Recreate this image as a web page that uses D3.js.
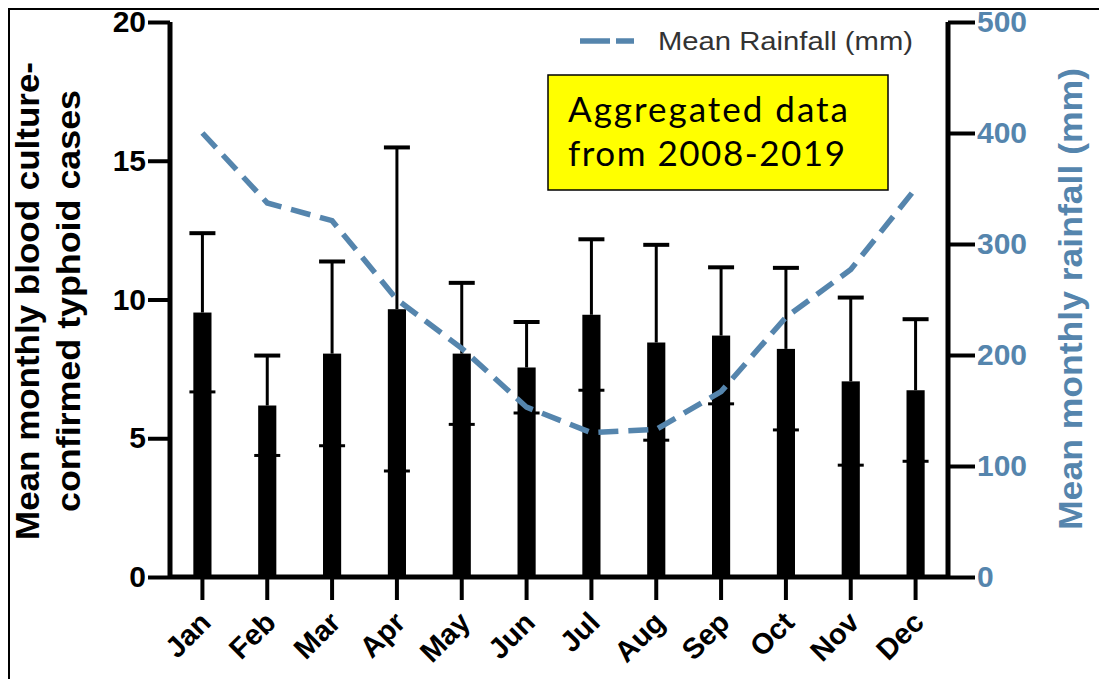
<!DOCTYPE html>
<html lang="en">
<head>
<meta charset="UTF-8">
<title>Typhoid cases and rainfall</title>
<script src="https://cdn.jsdelivr.net/npm/d3@7"></script>
<style>
    body{ margin:0; background:#fff; }
    .axis path, .axis line{ fill:none; stroke:#000; }
    .axis text{ font-family:'Liberation Sans', Arial, sans-serif; font-weight:bold; }
</style>
</head>
<body>
<div id="container"></div>
<script>
    // monthly data
    const months = ["Jan","Feb","Mar","Apr","May","Jun","Jul","Aug","Sep","Oct","Nov","Dec"]
    const meanCases = [9.53, 6.18, 8.05, 9.65, 8.05, 7.55, 9.45, 8.45, 8.7, 8.22, 7.05, 6.73]
    const sdCases = [2.86, 1.8, 3.32, 5.83, 2.55, 1.64, 2.72, 3.52, 2.46, 2.92, 3.02, 2.56]
    const rainfall = [400, 337, 321, 250, 206, 153, 130, 133, 167, 234, 277, 350]
    const leftTicks = [0, 5, 10, 15, 20]
    const rightTicks = [0, 100, 200, 300, 400, 500]

    const width = 1099, height = 679
    const plotL = 170, plotR = 948, plotT = 22, plotB = 577
    const blue = "#5585ad"
    const tfont = "'Liberation Sans', Arial, sans-serif"

    const svg = d3.select("#container").append("svg")
        .attr("width", width).attr("height", height)

    // frame of the screenshot
    svg.append("path").attr("d", "M9," + height + "V9H" + width)
        .attr("fill", "none").attr("stroke", "#000").attr("stroke-width", 2)

    const x = d3.scaleBand().domain(months).range([plotL, plotR]).paddingInner(0.72).paddingOuter(0.36)
    const y = d3.scaleLinear().domain([0, 20]).range([plotB, plotT])
    const yR = d3.scaleLinear().domain([0, 500]).range([plotB, plotT])
    const cx = d => x(d) + x.bandwidth() / 2

    // bars
    svg.selectAll("rect.bar").data(months).enter().append("rect")
        .attr("class", "bar")
        .attr("x", d => x(d))
        .attr("width", x.bandwidth())
        .attr("y", (d, i) => y(meanCases[i]))
        .attr("height", (d, i) => plotB - y(meanCases[i]))
        .attr("fill", "#000")

    // error bars (upper on white, lower cap inside bar)
    const err = svg.append("g")
    months.forEach((m, i) => {
        const hi = y(meanCases[i] + sdCases[i]), lo = y(meanCases[i] - sdCases[i])
        err.append("line").attr("x1", cx(m)).attr("x2", cx(m))
            .attr("y1", hi).attr("y2", y(meanCases[i])).attr("stroke", "#000").attr("stroke-width", 3)
        err.append("line").attr("x1", cx(m) - 13).attr("x2", cx(m) + 13)
            .attr("y1", hi).attr("y2", hi).attr("stroke", "#000").attr("stroke-width", 4)
        err.append("line").attr("x1", cx(m) - 13).attr("x2", cx(m) + 13)
            .attr("y1", lo).attr("y2", lo).attr("stroke", "#000").attr("stroke-width", 3)
    })

    // rainfall line
    const line = d3.line().x((d, i) => cx(months[i])).y(d => yR(d))
    svg.append("path").datum(rainfall)
        .attr("d", line)
        .attr("fill", "none")
        .attr("stroke", blue)
        .attr("stroke-width", 5.5)
        .attr("stroke-dasharray", "20,10")

    // left axis
    const yAxis = d3.axisLeft(y).tickValues(leftTicks).tickSize(22).tickPadding(2)
    const gl = svg.append("g").attr("class", "axis")
        .attr("transform", "translate(" + plotL + ",0)").call(yAxis)
    gl.select(".domain").attr("stroke-width", 5).attr("d", "M0," + plotB + "V" + plotT)
    gl.selectAll(".tick line").attr("stroke-width", 4)
    gl.selectAll(".tick text").attr("font-size", 30).attr("fill", "#000")

    // right axis
    const yAxisR = d3.axisRight(yR).tickValues(rightTicks).tickSize(27).tickPadding(2)
    const gr = svg.append("g").attr("class", "axis")
        .attr("transform", "translate(" + plotR + ",0)").call(yAxisR)
    gr.select(".domain").attr("stroke-width", 5).attr("d", "M0," + plotB + "V" + plotT)
    gr.selectAll(".tick line").attr("stroke-width", 4)
    gr.selectAll(".tick text").attr("font-size", 30).attr("fill", blue)

    // x axis
    svg.append("line").attr("x1", plotL).attr("x2", plotR)
        .attr("y1", plotB).attr("y2", plotB).attr("stroke", "#000").attr("stroke-width", 5)
    const xAxis = d3.axisBottom(x).tickSize(23)
    const gx = svg.append("g").attr("class", "axis")
        .attr("transform", "translate(0," + plotB + ")").call(xAxis)
    gx.select(".domain").remove()
    gx.selectAll(".tick line").attr("stroke-width", 4)
    gx.selectAll(".tick text")
        .attr("font-size", 29).attr("fill", "#000")
        .attr("text-anchor", "end")
        .attr("x", 0).attr("y", 0)
        .attr("dy", "0.35em")
        .attr("transform", "translate(3,40) rotate(-45)")

    // axis titles
    svg.append("text").attr("transform", "translate(39,301) rotate(-90)")
        .attr("text-anchor", "middle").attr("font-family", tfont).attr("font-weight", "bold")
        .attr("font-size", 34).attr("textLength", 478).attr("lengthAdjust", "spacingAndGlyphs")
        .text("Mean monthly blood culture-")
    svg.append("text").attr("transform", "translate(80,301) rotate(-90)")
        .attr("text-anchor", "middle").attr("font-family", tfont).attr("font-weight", "bold")
        .attr("font-size", 34).attr("textLength", 422).attr("lengthAdjust", "spacingAndGlyphs")
        .text("confirmed typhoid cases")
    svg.append("text").attr("transform", "translate(1082,299) rotate(-90)")
        .attr("text-anchor", "middle").attr("font-family", tfont).attr("font-weight", "bold")
        .attr("font-size", 34).attr("fill", blue)
        .attr("textLength", 462).attr("lengthAdjust", "spacingAndGlyphs")
        .text("Mean monthly rainfall (mm)")

    // legend
    svg.append("line").attr("x1", 580).attr("x2", 634).attr("y1", 41).attr("y2", 41)
        .attr("stroke", blue).attr("stroke-width", 5.5).attr("stroke-dasharray", "30,6")
    svg.append("text").attr("x", 658).attr("y", 50).attr("font-family", tfont)
        .attr("font-size", 25).attr("fill", "#333")
        .attr("textLength", 255).attr("lengthAdjust", "spacingAndGlyphs")
        .text("Mean Rainfall (mm)")

    // yellow note
    svg.append("rect").attr("x", 548).attr("y", 75).attr("width", 340).attr("height", 115)
        .attr("fill", "#ffff00").attr("stroke", "#000").attr("stroke-width", 1.5)
    const note = svg.append("text").attr("font-family", "Lato, 'Open Sans', sans-serif").attr("font-size", 35)
        .attr("lengthAdjust", "spacingAndGlyphs")
    note.append("tspan").attr("x", 568).attr("y", 122).attr("textLength", 280).text("Aggregated data")
    note.append("tspan").attr("x", 568).attr("y", 166).attr("textLength", 277).text("from 2008-2019")
</script>
</body>
</html>
